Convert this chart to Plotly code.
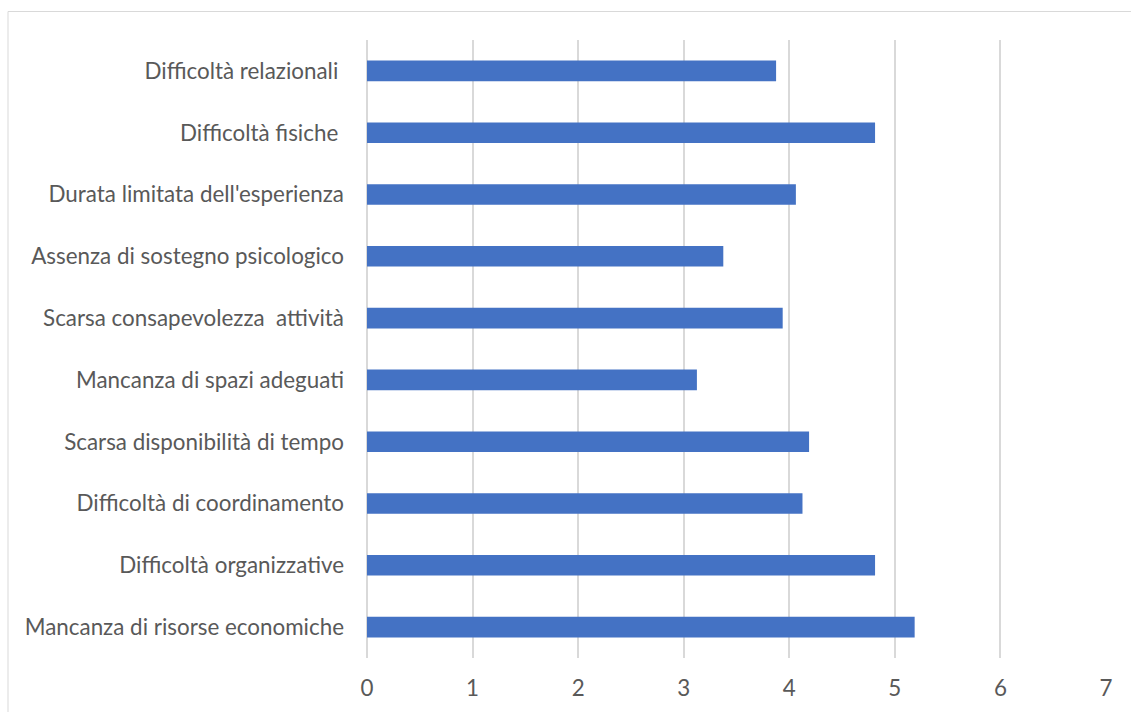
import plotly.graph_objects as go

# Obstacles listed bottom-to-top, with their mean scores
categories = [
    "Mancanza di risorse economiche",
    "Difficoltà organizzative",
    "Difficoltà di coordinamento",
    "Scarsa disponibilità di tempo",
    "Mancanza di spazi adeguati",
    "Scarsa consapevolezza\u00a0\u00a0attività",
    "Assenza di sostegno psicologico",
    "Durata limitata dell'esperienza",
    "Difficoltà fisiche\u00a0",
    "Difficoltà relazionali\u00a0",
]
scores = [5.1875, 4.8125, 4.125, 4.1875, 3.125, 3.9375, 3.375, 4.0625, 4.8125, 3.875]
x_ticks = [0, 1, 2, 3, 4, 5, 6, 7]

FONT = "Lato"
FONT_SIZE = 22.4
TEXT_COLOR = "#595959"
GRID_COLOR = "#d9d9d9"

fig = go.Figure(
    go.Bar(
        x=scores,
        y=categories,
        orientation="h",
        marker=dict(color="#4472C4", line=dict(width=0)),
        hoverinfo="x+y",
    )
)

W, H = 1131, 712
L, R, T, B = 367, 25, 40, 54
pw, ph = W - L - R, H - T - B

# Chart frame (top and left edges visible)
fx = (8 - L) / pw
fy = 1 + (T - 11.5) / ph
fig.add_shape(type="line", xref="paper", yref="paper",
              x0=fx, x1=(W - L + 5) / pw, y0=fy, y1=fy,
              line=dict(color=GRID_COLOR, width=1))
fig.add_shape(type="line", xref="paper", yref="paper",
              x0=fx, x1=fx, y0=fy, y1=-(B + 5) / ph,
              line=dict(color=GRID_COLOR, width=1))

fig.update_layout(
    width=W,
    height=H,
    margin=dict(l=L, r=R, t=T, b=B, pad=0),
    paper_bgcolor="white",
    plot_bgcolor="white",
    bargap=2 / 3,
    showlegend=False,
    font=dict(family=FONT, color=TEXT_COLOR, size=FONT_SIZE),
    xaxis=dict(
        range=[0, 7],
        tickvals=x_ticks,
        ticktext=[str(v) for v in x_ticks],
        showgrid=True,
        gridcolor=GRID_COLOR,
        gridwidth=2,
        zeroline=True,
        zerolinecolor=GRID_COLOR,
        zerolinewidth=2,
        showline=False,
        ticks="",
        ticklabelstandoff=15,
        tickfont=dict(family=FONT, size=FONT_SIZE, color=TEXT_COLOR),
        fixedrange=True,
    ),
    yaxis=dict(
        categoryorder="array",
        categoryarray=categories,
        showgrid=False,
        zeroline=False,
        showline=False,
        ticks="",
        ticklabelstandoff=22,
        tickfont=dict(family=FONT, size=FONT_SIZE, color=TEXT_COLOR),
        fixedrange=True,
    ),
)

fig.write_html("out.html", config={"displayModeBar": False})
